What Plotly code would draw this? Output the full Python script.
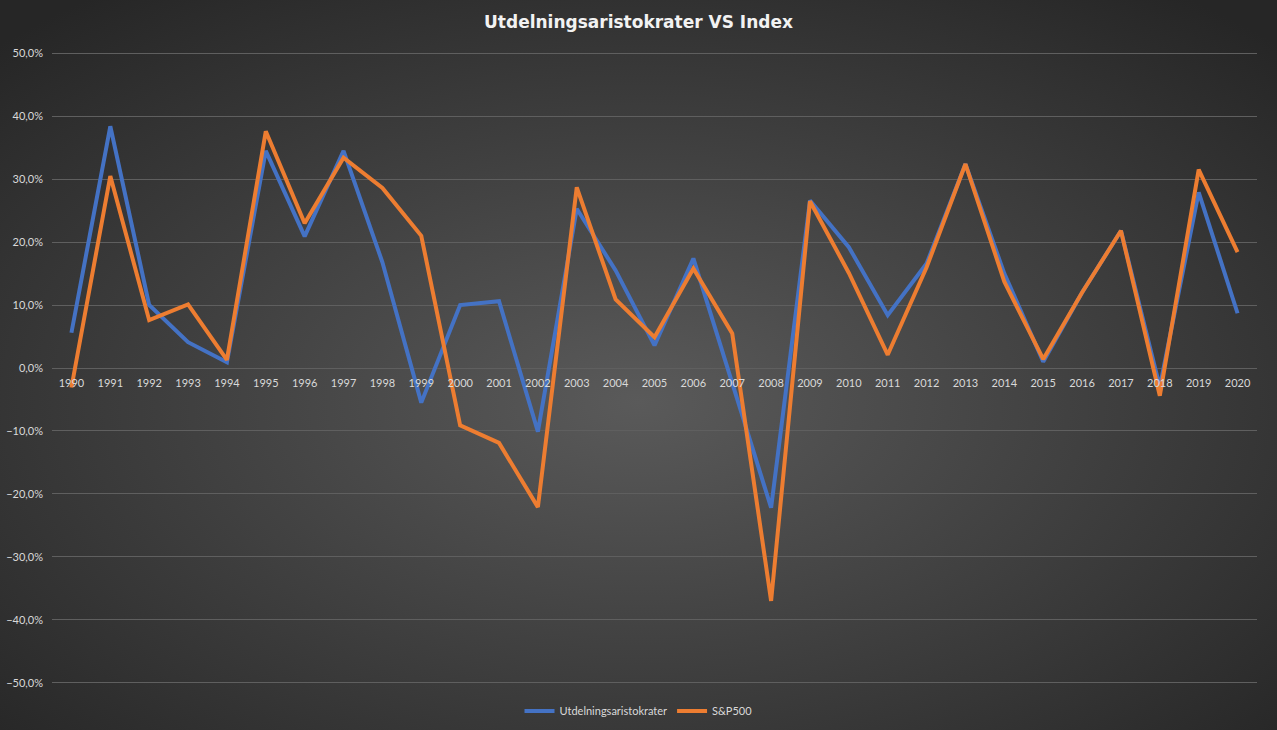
"""Utdelningsaristokrater vs S&P500, yearly return."""

import base64

import plotly.graph_objects as go

years = [str(y) for y in range(1990, 2021)]
aristokrater = [
    0.056, 0.384, 0.100, 0.041, 0.009, 0.345, 0.209, 0.345, 0.168, -0.055,
    0.100, 0.106, -0.101, 0.253, 0.155, 0.036, 0.174, -0.025, -0.222, 0.266,
    0.192, 0.084, 0.166, 0.324, 0.150, 0.010, 0.120, 0.218, -0.030, 0.279,
    0.087,
]
sp500 = [
    -0.031, 0.305, 0.076, 0.101, 0.013, 0.376, 0.230, 0.334, 0.286, 0.210,
    -0.091, -0.119, -0.221, 0.287, 0.109, 0.049, 0.158, 0.055, -0.370, 0.265,
    0.151, 0.021, 0.160, 0.324, 0.137, 0.014, 0.120, 0.218, -0.044, 0.315,
    0.184,
]
y_ticks = [-0.5, -0.4, -0.3, -0.2, -0.1, 0.0, 0.1, 0.2, 0.3, 0.4, 0.5]

W, H = 1277, 730
M = {"l": 52, "r": 20, "t": 52, "b": 46}
pw = W - M["l"] - M["r"]
ph = H - M["t"] - M["b"]

# Excel-like dark radial background
svg = (
    '<svg xmlns="http://www.w3.org/2000/svg" width="1277" height="730">'
    '<defs><radialGradient id="g" cx="50%" cy="55%" r="70%">'
    '<stop offset="0" stop-color="#5a5a5a"/>'
    '<stop offset="1" stop-color="#262626"/>'
    "</radialGradient></defs>"
    '<rect width="1277" height="730" fill="url(#g)"/></svg>'
)
bg_src = "data:image/svg+xml;base64," + base64.b64encode(svg.encode()).decode()

fig = go.Figure()
fig.add_trace(
    go.Scatter(
        x=years, y=aristokrater, mode="lines", name="Utdelningsaristokrater",
        line={"color": "#4472C4", "width": 4},
    )
)
fig.add_trace(
    go.Scatter(
        x=years, y=sp500, mode="lines", name="S&P500",
        line={"color": "#ED7D31", "width": 4},
    )
)

fig.update_layout(
    width=W,
    height=H,
    margin=M,
    paper_bgcolor="#404040",
    plot_bgcolor="rgba(0,0,0,0)",
    separators=", ",
    font={"family": "Lato, 'Open Sans', sans-serif", "color": "#d9d9d9", "size": 11},
    title={
        "text": "<b>Utdelningsaristokrater VS Index</b>",
        "x": 0.5,
        "xanchor": "center",
        "y": 1 - 22 / H,
        "yanchor": "middle",
        "font": {"family": "'DejaVu Sans', sans-serif", "size": 17, "color": "#f2f2f2"},
    },
    xaxis={
        "type": "category",
        "range": [-0.5, 30.5],
        "anchor": "free",
        "position": 0.5,
        "automargin": False,
        "showgrid": False,
        "showline": False,
        "zeroline": False,
        "ticks": "",
        "ticklabelstandoff": 7,
        "tickfont": {"size": 11, "color": "#d9d9d9"},
    },
    yaxis={
        "range": [-0.502, 0.502],
        "tickvals": y_ticks,
        "tickformat": ".1%",
        "automargin": False,
        "showgrid": True,
        "gridcolor": "#5f5f5f",
        "gridwidth": 1,
        "zeroline": False,
        "showline": False,
        "ticks": "",
        "ticklabelstandoff": 8,
        "tickfont": {"size": 11, "color": "#d9d9d9"},
    },
    legend={
        "orientation": "h",
        "x": 0.5,
        "xanchor": "center",
        "xref": "container",
        "y": 19 / H,
        "yanchor": "middle",
        "yref": "container",
        "font": {"size": 11, "color": "#d9d9d9"},
        "bgcolor": "rgba(0,0,0,0)",
    },
    images=[
        {
            "source": bg_src,
            "xref": "paper",
            "yref": "paper",
            "x": -M["l"] / pw,
            "y": 1 + M["t"] / ph,
            "sizex": W / pw,
            "sizey": H / ph,
            "sizing": "stretch",
            "xanchor": "left",
            "yanchor": "top",
            "layer": "below",
        }
    ],
)

# drop the default body margin so the chart sits flush in the window
_no_margin_css = (
    "var s=document.createElement('style');"
    "s.textContent='html,body{margin:0;padding:0;overflow:hidden;background:#262626}';"
    "document.head.appendChild(s);"
)
fig.write_html(
    "out.html",
    config={"displayModeBar": False},
    post_script=_no_margin_css,
)
